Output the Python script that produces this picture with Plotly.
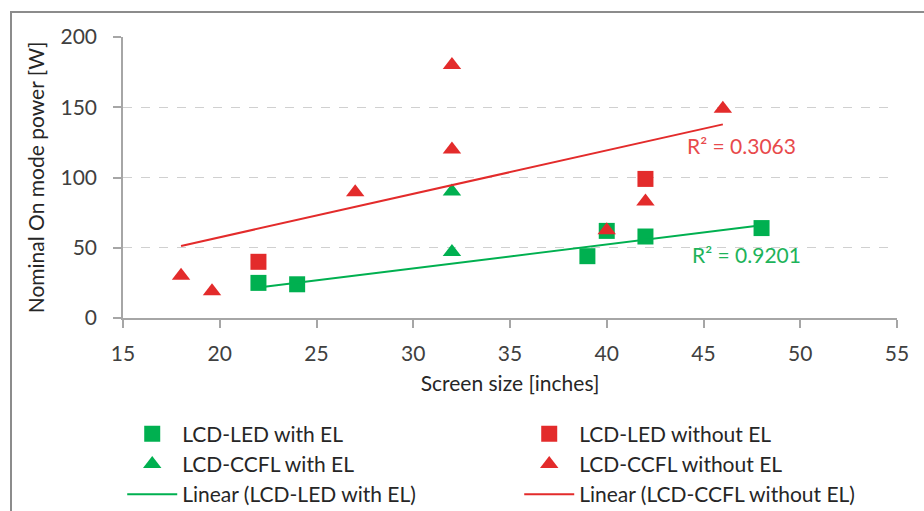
import plotly.graph_objects as go

# ---- data ----
led_el_x = [22, 24, 39, 40, 42, 48]
led_el_y = [25, 24, 44, 62, 58, 64]

led_noel_x = [22, 42]
led_noel_y = [40, 99]

ccfl_el_x = [32, 32]
ccfl_el_y = [90, 47]

ccfl_noel_x = [18, 19.6, 27, 32, 32, 40, 42, 46]
ccfl_noel_y = [30, 19, 89.5, 180, 120, 62.5, 83, 149]

# trendline end points as drawn in the picture
trend_led_el_x = [22, 48]
trend_led_el_y = [21.7, 66]
trend_ccfl_noel_x = [18, 46]
trend_ccfl_noel_y = [51.3, 137.8]

r2_led_el = "R² = 0.9201"
r2_ccfl_noel = "R² = 0.3063"

x_ticks = [15, 20, 25, 30, 35, 40, 45, 50, 55]
y_ticks = [0, 50, 100, 150, 200]

GREEN = "#00B050"
RED = "#E32B2B"
FONT = "Lato"

fig = go.Figure()
fig.add_trace(go.Scatter(x=led_el_x, y=led_el_y, mode="markers", name="LCD-LED with EL",
                         marker=dict(symbol="square", size=16, color=GREEN)))
fig.add_trace(go.Scatter(x=led_noel_x, y=led_noel_y, mode="markers", name="LCD-LED without EL",
                         marker=dict(symbol="square", size=16, color=RED)))
fig.add_trace(go.Scatter(x=ccfl_el_x, y=ccfl_el_y, mode="markers", name="LCD-CCFL with EL",
                         marker=dict(symbol="triangle-up", size=16, color=GREEN)))
fig.add_trace(go.Scatter(x=ccfl_noel_x, y=ccfl_noel_y, mode="markers", name="LCD-CCFL without EL",
                         marker=dict(symbol="triangle-up", size=16, color=RED)))
fig.add_trace(go.Scatter(x=trend_led_el_x, y=trend_led_el_y, mode="lines",
                         name="Linear (LCD-LED with EL)", line=dict(color=GREEN, width=2)))
fig.add_trace(go.Scatter(x=trend_ccfl_noel_x, y=trend_ccfl_noel_y, mode="lines",
                         name="Linear (LCD-CCFL without EL)", line=dict(color=RED, width=2)))

fig.add_annotation(x=44.06, y=123, xref="x", yref="y", text=r2_ccfl_noel, showarrow=False,
                   xanchor="left", yanchor="middle", font=dict(family=FONT, size=21, color="#E84A4C"))
fig.add_annotation(x=44.3, y=45, xref="x", yref="y", text=r2_led_el, showarrow=False,
                   xanchor="left", yanchor="middle", font=dict(family=FONT, size=21, color="#1DB35A"))

# outer chart border
fig.add_shape(type="rect", xref="paper", yref="paper",
              x0=(11 - 123) / 774, x1=1.2, y0=-0.75, y1=(318.5 - 12) / 281.5,
              line=dict(color="#8C8C8C", width=2), layer="below")

fig.update_layout(
    width=924, height=511,
    margin=dict(l=123, r=27, t=37, b=192.5, autoexpand=False),
    paper_bgcolor="white", plot_bgcolor="white",
    font=dict(family=FONT, size=21, color="#262626"),
    showlegend=True,
    legend=dict(orientation="h", x=-0.001, xanchor="left", y=-0.34, yanchor="top",
                entrywidth=332, entrywidthmode="pixels", itemwidth=50,
                font=dict(family=FONT, size=21, color="#262626"),
                bgcolor="rgba(0,0,0,0)", tracegroupgap=0),
    xaxis=dict(range=[15, 55], tickvals=x_ticks, showgrid=False, zeroline=False,
               showline=True, linecolor="#A6A6A6", linewidth=1.5,
               ticks="outside", ticklen=8, tickcolor="#A6A6A6", tickwidth=1.5,
               tickfont=dict(family=FONT, size=21, color="#404040"), ticklabelstandoff=8,
               title=dict(text="Screen size [inches]", standoff=12,
                          font=dict(family=FONT, size=21, color="#262626"))),
    yaxis=dict(range=[0, 200], tickvals=y_ticks, showgrid=True, gridcolor="#D0D0D0",
               griddash="dash", gridwidth=1, zeroline=False,
               showline=True, linecolor="#A6A6A6", linewidth=1.5,
               ticks="outside", ticklen=8, tickcolor="#A6A6A6", tickwidth=1.5,
               tickfont=dict(family=FONT, size=21, color="#404040"), ticklabelstandoff=12,
               title=dict(text="Nominal On mode power [W]", standoff=10,
                          font=dict(family=FONT, size=21, color="#262626"))),
)

fig.write_html("out.html")
